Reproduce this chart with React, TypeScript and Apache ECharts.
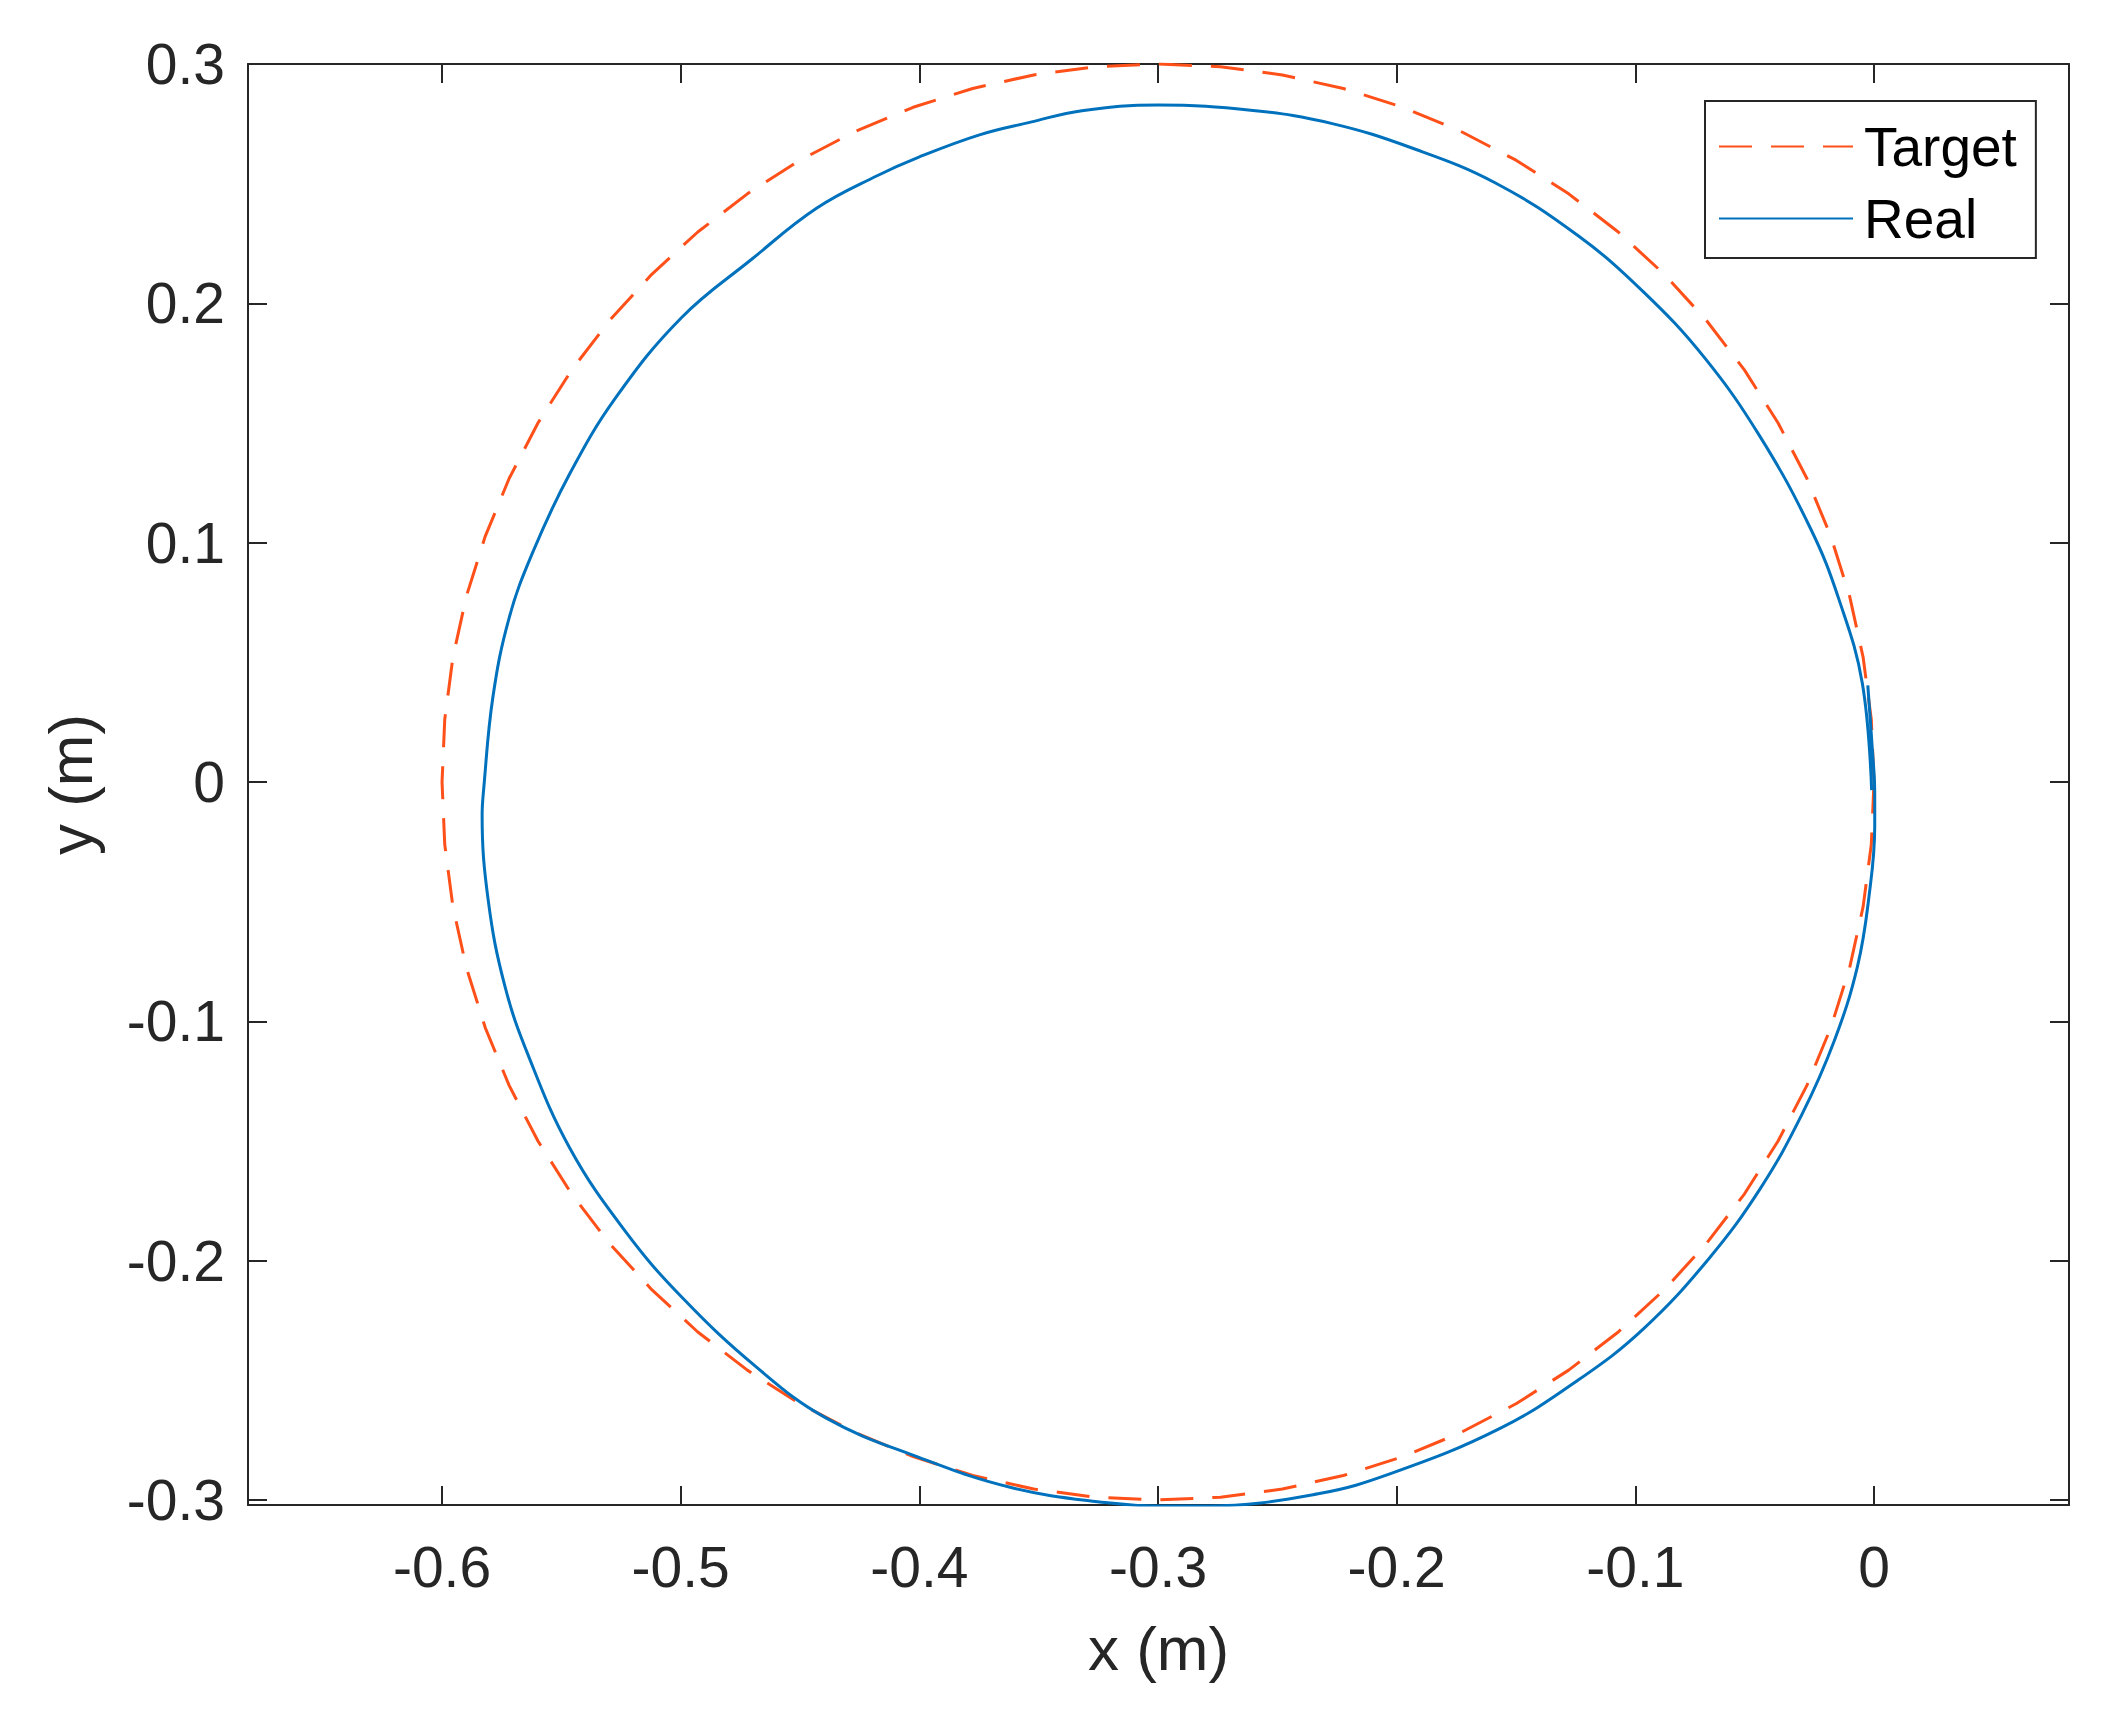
import React, { useEffect, useRef } from "react";
import * as echarts from "echarts";

const xTicks = [-0.6, -0.5, -0.4, -0.3, -0.2, -0.1, 0];
const yTicks = [-0.3, -0.2, -0.1, 0, 0.1, 0.2, 0.3];
const xRange = [-0.6813, 0.0817];
const yRange = [-0.3021, 0.3];
const seriesNames = ["Target", "Real"];
const axisNames = ["x (m)", "y (m)"];

// Target trajectory: circle of radius 0.3 centred at (-0.3, 0), read every 5 degrees
const targetPoints: number[][] = [
  [0, 0], [-0.00114, 0.02615], [-0.00456, 0.0521], [-0.01022, 0.07765], [-0.01809, 0.10261],
  [-0.02811, 0.12679], [-0.04019, 0.15], [-0.05425, 0.17207], [-0.07019, 0.19284], [-0.08787, 0.21213],
  [-0.10716, 0.22981], [-0.12793, 0.24575], [-0.15, 0.25981], [-0.17321, 0.27189], [-0.19739, 0.28191],
  [-0.22235, 0.28978], [-0.2479, 0.29544], [-0.27385, 0.29886], [-0.3, 0.3],
  [-0.32615, 0.29886], [-0.3521, 0.29544], [-0.37765, 0.28978], [-0.40261, 0.28191], [-0.42679, 0.27189],
  [-0.45, 0.25981], [-0.47207, 0.24575], [-0.49284, 0.22981], [-0.51213, 0.21213], [-0.52981, 0.19284],
  [-0.54575, 0.17207], [-0.55981, 0.15], [-0.57189, 0.12679], [-0.58191, 0.10261], [-0.58978, 0.07765],
  [-0.59544, 0.0521], [-0.59886, 0.02615], [-0.6, 0],
  [-0.59886, -0.02615], [-0.59544, -0.0521], [-0.58978, -0.07765], [-0.58191, -0.10261], [-0.57189, -0.12679],
  [-0.55981, -0.15], [-0.54575, -0.17207], [-0.52981, -0.19284], [-0.51213, -0.21213], [-0.49284, -0.22981],
  [-0.47207, -0.24575], [-0.45, -0.25981], [-0.42679, -0.27189], [-0.40261, -0.28191], [-0.37765, -0.28978],
  [-0.3521, -0.29544], [-0.32615, -0.29886], [-0.3, -0.3],
  [-0.27385, -0.29886], [-0.2479, -0.29544], [-0.22235, -0.28978], [-0.19739, -0.28191], [-0.17321, -0.27189],
  [-0.15, -0.25981], [-0.12793, -0.24575], [-0.10716, -0.22981], [-0.08787, -0.21213], [-0.07019, -0.19284],
  [-0.05425, -0.17207], [-0.04019, -0.15], [-0.02811, -0.12679], [-0.01809, -0.10261], [-0.01022, -0.07765],
  [-0.00456, -0.0521], [-0.00114, -0.02615], [0, 0],
];

const realPoints: number[][] = [
  [-0.0026, 0.0404], [-0.0008, 0.015], [0.0003, -0.005], [0.0003, -0.0186], [-0.0021, -0.0478],
  [-0.0069, -0.0769], [-0.0166, -0.108], [-0.0303, -0.1391], [-0.0478, -0.1701], [-0.0693, -0.1993],
  [-0.0965, -0.2284], [-0.1238, -0.2498], [-0.1569, -0.2702], [-0.2017, -0.2887], [-0.2329, -0.2974],
  [-0.2797, -0.3025], [-0.2996, -0.3025], [-0.3222, -0.3011], [-0.3612, -0.2949], [-0.4002, -0.2822],
  [-0.4392, -0.2657], [-0.4685, -0.2443], [-0.4997, -0.2151], [-0.5231, -0.1879], [-0.5465, -0.1529],
  [-0.564, -0.1139], [-0.5738, -0.0848], [-0.5806, -0.0498], [-0.5832, -0.0137], [-0.5826, -0.0035],
  [-0.5787, 0.0354], [-0.5719, 0.0685], [-0.5621, 0.0957], [-0.5465, 0.1288], [-0.527, 0.1609],
  [-0.4997, 0.194], [-0.4704, 0.2183], [-0.4431, 0.2397], [-0.4177, 0.2533], [-0.4002, 0.2611],
  [-0.3748, 0.2704], [-0.3534, 0.2757], [-0.3319, 0.2805], [-0.3, 0.2829], [-0.2602, 0.2806],
  [-0.227, 0.2751], [-0.1939, 0.265], [-0.1588, 0.2504], [-0.1238, 0.2281], [-0.0965, 0.2047],
  [-0.0712, 0.1775], [-0.0478, 0.1444], [-0.0264, 0.1055], [-0.0147, 0.0763], [-0.0049, 0.0413],
  [-0.001, -0.0034],
];

export default function App() {
  const ref = useRef<HTMLDivElement>(null);
  useEffect(() => {
    document.body.style.margin = "0";
    document.body.style.overflow = "hidden";
    const chart = echarts.init(ref.current!, null, { renderer: "svg" });
    const axisColor = "#262626";
    const font = "'Liberation Sans', Arial, Helvetica, sans-serif";
    const fmt = (v: number) => String(Math.round(v * 10) / 10);
    const lineStyle = { color: axisColor, width: 2 };
    const tickBase = { show: true, inside: true, length: 19, lineStyle };

    const option: any = {
      animation: false,
      backgroundColor: "#ffffff",
      grid: {
        left: 248,
        top: 64,
        width: 1821,
        height: 1441,
        containLabel: false,
        outerBoundsMode: "none",
      },
      legend: {
        data: seriesNames,
        orient: "vertical",
        left: 1705,
        top: 101,
        padding: [18, 19, 12, 13],
        itemGap: 17,
        itemWidth: 134,
        itemHeight: 20,
        backgroundColor: "#ffffff",
        borderColor: axisColor,
        borderWidth: 2,
        borderRadius: 0,
        selectedMode: false,
        itemStyle: { opacity: 0 },
        textStyle: {
          fontFamily: font,
          fontSize: 55,
          lineHeight: 54,
          color: "#000000",
          padding: [0, 0, 0, 6],
        },
      },
      xAxis: [
        {
          type: "value",
          position: "bottom",
          min: xRange[0],
          max: xRange[1],
          name: axisNames[0],
          nameLocation: "middle",
          nameGap: 112,
          nameTextStyle: { fontFamily: font, fontSize: 62, color: axisColor },
          axisLine: { show: true, onZero: false, lineStyle },
          axisTick: { ...tickBase, customValues: xTicks },
          axisLabel: {
            show: true,
            customValues: xTicks,
            formatter: fmt,
            fontFamily: font,
            fontSize: 57,
            margin: 33,
            color: axisColor,
            hideOverlap: false,
          },
          splitLine: { show: false },
        },
        {
          type: "value",
          position: "top",
          min: xRange[0],
          max: xRange[1],
          axisLine: { show: true, onZero: false, lineStyle },
          axisTick: { ...tickBase, customValues: xTicks },
          axisLabel: { show: false },
          splitLine: { show: false },
        },
      ],
      yAxis: [
        {
          type: "value",
          position: "left",
          min: yRange[0],
          max: yRange[1],
          name: axisNames[1],
          nameLocation: "middle",
          nameGap: 147,
          nameTextStyle: { fontFamily: font, fontSize: 62, color: axisColor },
          axisLine: { show: true, onZero: false, lineStyle },
          axisTick: { ...tickBase, customValues: yTicks },
          axisLabel: {
            show: true,
            customValues: yTicks,
            formatter: fmt,
            fontFamily: font,
            fontSize: 57,
            margin: 23,
            color: axisColor,
            hideOverlap: false,
          },
          splitLine: { show: false },
        },
        {
          type: "value",
          position: "right",
          min: yRange[0],
          max: yRange[1],
          axisLine: { show: true, onZero: false, lineStyle },
          axisTick: { ...tickBase, customValues: yTicks },
          axisLabel: { show: false },
          splitLine: { show: false },
        },
      ],
      series: [
        {
          name: seriesNames[0],
          type: "line",
          xAxisIndex: 0,
          yAxisIndex: 0,
          data: targetPoints,
          symbol: "none",
          smooth: false,
          clip: true,
          lineStyle: { color: "#FF5019", width: 3, type: [33, 19] },
          itemStyle: { color: "#FF5019" },
          z: 3,
        },
        {
          name: seriesNames[1],
          type: "line",
          xAxisIndex: 0,
          yAxisIndex: 0,
          data: realPoints,
          symbol: "none",
          smooth: 0.4,
          clip: true,
          lineStyle: { color: "#0072BD", width: 3 },
          itemStyle: { color: "#0072BD" },
          z: 4,
        },
      ],
    };
    chart.setOption(option);
    return () => chart.dispose();
  }, []);
  return (
    <div
      ref={ref}
      style={{ position: "absolute", left: 0, top: 0, width: 2121, height: 1715, background: "#fff" }}
    />
  );
}
